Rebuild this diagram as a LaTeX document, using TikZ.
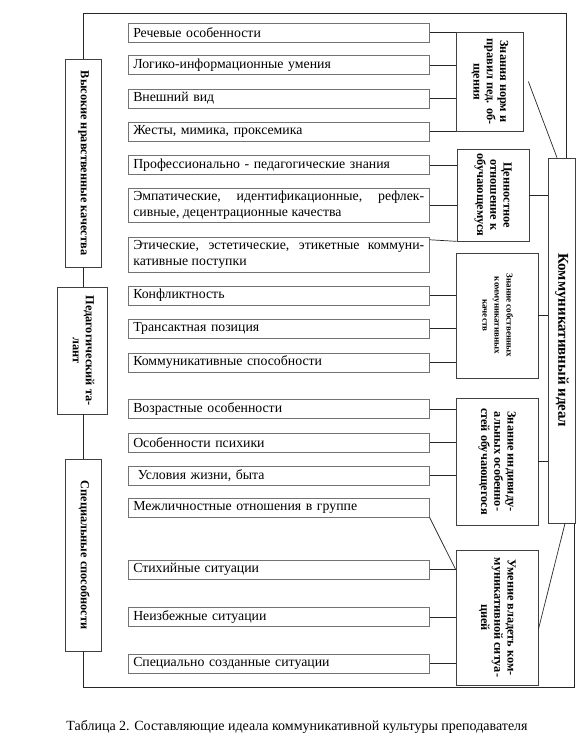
\documentclass[tikz,border=0pt]{standalone}
\usepackage{fontspec}
\setmainfont{Liberation Serif}
\usepackage{graphicx}
\usetikzlibrary{calc}
\usetikzlibrary{positioning}

\newcommand{\vlab}[1]{\rotatebox{-90}{\begin{tabular}{@{}c@{}}#1\end{tabular}}}

\begin{document}
\begin{tikzpicture}[
		x=1pt, y=-1pt,
		it/.style = {rectangle, draw=black!55, line width=0.5pt, anchor=west, minimum width=301pt, minimum height=19pt, text width=291pt, inner xsep=5pt, inner ysep=1pt, align=left, font=\fontsize{13.8}{15.5}\selectfont},
		gr/.style = {rectangle, draw=black!75, line width=0.7pt, inner sep=0pt, font=\fontsize{12.3}{13.2}\selectfont\bfseries},
		ln/.style = {draw=black!85, line width=0.7pt}
		]
		\useasboundingbox (0,0) rectangle (587,755);
		
		%Nodes
		\node[it]	(i1)	at	(128, 32.5)		{Речевые особенности};
		\node[it]	(i2)	at	(128, 65)		{Логико-информационные умения};
		\node[it]	(i3)	at	(128, 98.5)		{Внешний вид};
		\node[it]	(i4)	at	(128, 131.5)	{Жесты, мимика, проксемика};
		\node[it]	(i5)	at	(128, 165)		{Профессионально - педагогические знания};
		\node[it, align=justify, minimum height=34pt]	(i6)	at	(128, 205)	{Эмпатические, идентификационные, рефлек-\linebreak сивные, децентрационные качества};
		\node[it, align=justify, minimum height=35pt]	(i7)	at	(128, 254.5)	{Этические, эстетические, этикетные коммуни-\linebreak кативные поступки};
		\node[it]	(i8)	at	(128, 295.5)	{Конфликтность};
		\node[it]	(i9)	at	(128, 328.5)	{Трансактная позиция};
		\node[it]	(i10)	at	(128, 362.5)	{Коммуникативные способности};
		\node[it]	(i11)	at	(128, 409)		{Возрастные особенности};
		\node[it]	(i12)	at	(128, 442.5)	{Особенности психики};
		\node[it]	(i13)	at	(128, 475.5)	{\ Условия жизни, быта};
		\node[it]	(i14)	at	(128, 507.5)	{Межличностные отношения в группе};
		\node[it]	(i15)	at	(128, 569.5)	{Стихийные ситуации};
		\node[it]	(i16)	at	(128, 617)		{Неизбежные ситуации};
		\node[it]	(i17)	at	(128, 663.5)	{Специально созданные ситуации};
		
		\node[gr, minimum width=67pt, minimum height=99pt]	(g1)	at	(489.5, 81.5)	{\vlab{Знания норм и\\правил пед. об-\\щения}};
		\node[gr, minimum width=72pt, minimum height=92pt]	(g2)	at	(493, 195)		{\vlab{Ценностное\\отношение к\\обучающемуся}};
		\node[gr, minimum width=82pt, minimum height=125pt, font=\fontsize{9}{12}\selectfont\bfseries]	(g3)	at	(497, 315.5)	{\vlab{Знание собственных\\коммуникативных\\качеств}};
		\node[gr, minimum width=82pt, minimum height=127pt]	(g4)	at	(497, 461.5)	{\vlab{Знание индивиду-\\альных особенно-\\стей обучающегося}};
		\node[gr, minimum width=82pt, minimum height=135pt]	(g5)	at	(497, 617.5)	{\vlab{Умение владеть ком-\\муникативной ситуа-\\цией}};
		\node[gr, minimum width=27pt, minimum height=365pt, font=\fontsize{15}{16}\selectfont\bfseries]	(K)	at	(561.5, 340.5)	{\vlab{Коммуникативный идеал}};
		
		\node[gr, minimum width=36pt, minimum height=208pt]	(A)	at	(83.5, 163)		{\vlab{Высокие нравственные качества}};
		\node[gr, minimum width=50pt, minimum height=127pt]	(B)	at	(82, 350.5)		{\vlab{Педагогический та-\\лант}};
		\node[gr, minimum width=36pt, minimum height=192pt]	(C)	at	(83.5, 555)		{\vlab{Специальные способности}};
		
		\node[font=\fontsize{14}{16}\selectfont]	(cap)	at	(297, 727)	{Таблица 2. Составляющие идеала коммуникативной культуры преподавателя};
		
		\coordinate	(tr)	at	(566, 13);
		\coordinate	(br)	at	(574, 687);
		
		%Lines
		\draw[ln]	(A.north)	|-	(tr)	--	(tr |- K.north);
		\draw[ln]	(C.south)	|-	(br)	--	(br |- K.south);
		\draw[ln]	(A.south)	--	(A.south |- B.north);
		\draw[ln]	(C.north |- B.south)	--	(C.north);
		
		\foreach \i in {1,...,4}
			\draw[ln]	(i\i.east)	--	(i\i.east -| g1.west);
		\foreach \i in {5,6}
			\draw[ln]	(i\i.east)	--	(i\i.east -| g2.west);
		\draw[ln]	([yshift=-3pt]i7.north east)	--	(g2.south west);
		\foreach \i in {8,9,10}
			\draw[ln]	(i\i.east)	--	(i\i.east -| g3.west);
		\foreach \i in {11,12,13}
			\draw[ln]	(i\i.east)	--	(i\i.east -| g4.west);
		\foreach \i in {15,16,17}
			\draw[ln]	(i\i.east)	--	(i\i.east -| g5.west);
		\draw[ln]	(i14.south east)	--	(i15.east -| g5.west);
		
		\draw[ln]	(g2.east)	--	(g2.east -| K.west);
		\draw[ln]	(g3.east)	--	(g3.east -| K.west);
		\draw[ln]	(g4.east)	--	(g4.east -| K.west);
		\draw[ln]	([xshift=5pt]g1.east)	--	([xshift=-4.5pt]K.north);
		\draw[ln]	([xshift=3.5pt]K.south)	--	([yshift=-12pt]g5.east);
	\end{tikzpicture}
\end{document}
